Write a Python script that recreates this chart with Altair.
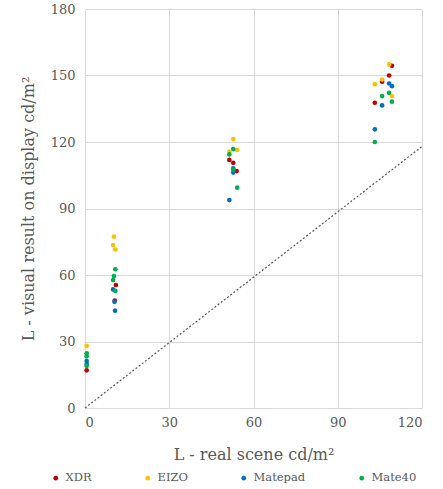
import altair as alt
import pandas as pd

series = ["XDR", "EIZO", "Matepad", "Mate40"]
colors = ["#C00000", "#FFC000", "#0070C0", "#00B050"]

xdr_x = [0.6, 10.6, 11.0, 51.4, 52.8, 54.0, 109.3, 108.3, 105.8, 103.2]
xdr_y = [17.0, 48.5, 55.5, 111.9, 110.6, 106.9, 154.4, 150.0, 147.2, 137.7]

eizo_x = [0.6, 10.3, 10.0, 10.8, 52.8, 54.2, 51.4, 108.3, 105.8, 103.2, 109.3]
eizo_y = [28.0, 77.3, 73.5, 71.5, 121.3, 116.4, 115.6, 155.0, 148.2, 146.1, 140.7]

matepad_x = [0.6, 0.6, 10.0, 10.5, 10.7, 52.8, 52.8, 51.4, 108.3, 109.3, 105.8, 103.2]
matepad_y = [21.2, 19.8, 53.5, 47.9, 43.9, 108.1, 106.2, 93.8, 146.4, 145.2, 136.5, 125.7]

mate40_x = [0.6, 0.6, 0.6, 10.8, 10.3, 10.0, 10.8, 52.8, 51.4, 52.8, 54.2, 108.3, 105.8, 109.3, 103.2]
mate40_y = [24.7, 23.3, 19.0, 62.6, 59.5, 57.7, 52.8, 116.8, 114.4, 107.4, 99.4, 142.2, 140.7, 138.2, 120.0]

diag_x = [0, 120]
diag_y = [0, 118]

rows = []
for name, xs, ys in [("XDR", xdr_x, xdr_y), ("EIZO", eizo_x, eizo_y),
                     ("Matepad", matepad_x, matepad_y), ("Mate40", mate40_x, mate40_y)]:
    for i, (a, b) in enumerate(zip(xs, ys)):
        rows.append({"series": name, "x": a, "y": b, "order": len(rows)})
df = pd.DataFrame(rows)
diag = pd.DataFrame({"x": diag_x, "y": diag_y})

FONT = "DejaVu Serif"
GRAY = "#595959"

xscale = alt.Scale(domain=[0, 120], nice=False)
yscale = alt.Scale(domain=[0, 180], nice=False)

line = alt.Chart(diag).mark_line(color="#595959", strokeDash=[2, 2], strokeWidth=1.2).encode(
    x=alt.X("x:Q", scale=xscale),
    y=alt.Y("y:Q", scale=yscale),
)

points = alt.Chart(df).mark_circle(size=22, opacity=1).encode(
    x=alt.X("x:Q", scale=xscale,
            axis=alt.Axis(values=[0, 30, 60, 90, 120], title="L - real scene cd/m²",
                          titlePadding=17)),
    y=alt.Y("y:Q", scale=yscale,
            axis=alt.Axis(values=[0, 30, 60, 90, 120, 150, 180],
                          title="L - visual result on display cd/m²", titlePadding=14)),
    color=alt.Color("series:N", scale=alt.Scale(domain=series, range=colors),
                    legend=alt.Legend(title=None, orient="none", direction="horizontal",
                                      legendX=-35, legendY=463, columnPadding=50,
                                      symbolType="circle", symbolSize=22,
                                      labelFont=FONT, labelFontSize=11.5,
                                      labelColor=GRAY, labelOffset=4)),
    order=alt.Order("order:Q"),
)

chart = alt.layer(line, points).properties(
    width=337, height=399,
    autosize=alt.AutoSizeParams(type="none"),
    padding={"left": 85, "top": 9, "right": 21, "bottom": 81},
).configure_view(stroke=None).configure_axis(
    labelFont=FONT, labelFontSize=13, labelColor=GRAY,
    titleFont=FONT, titleFontSize=16, titleColor=GRAY, titleFontWeight="normal",
    gridColor="#D9D9D9", domainColor="#D9D9D9", ticks=False, labelPadding=8,
).configure_axisY(labelPadding=10)

chart.save("out.html", embed_options={"renderer": "svg", "actions": False})
